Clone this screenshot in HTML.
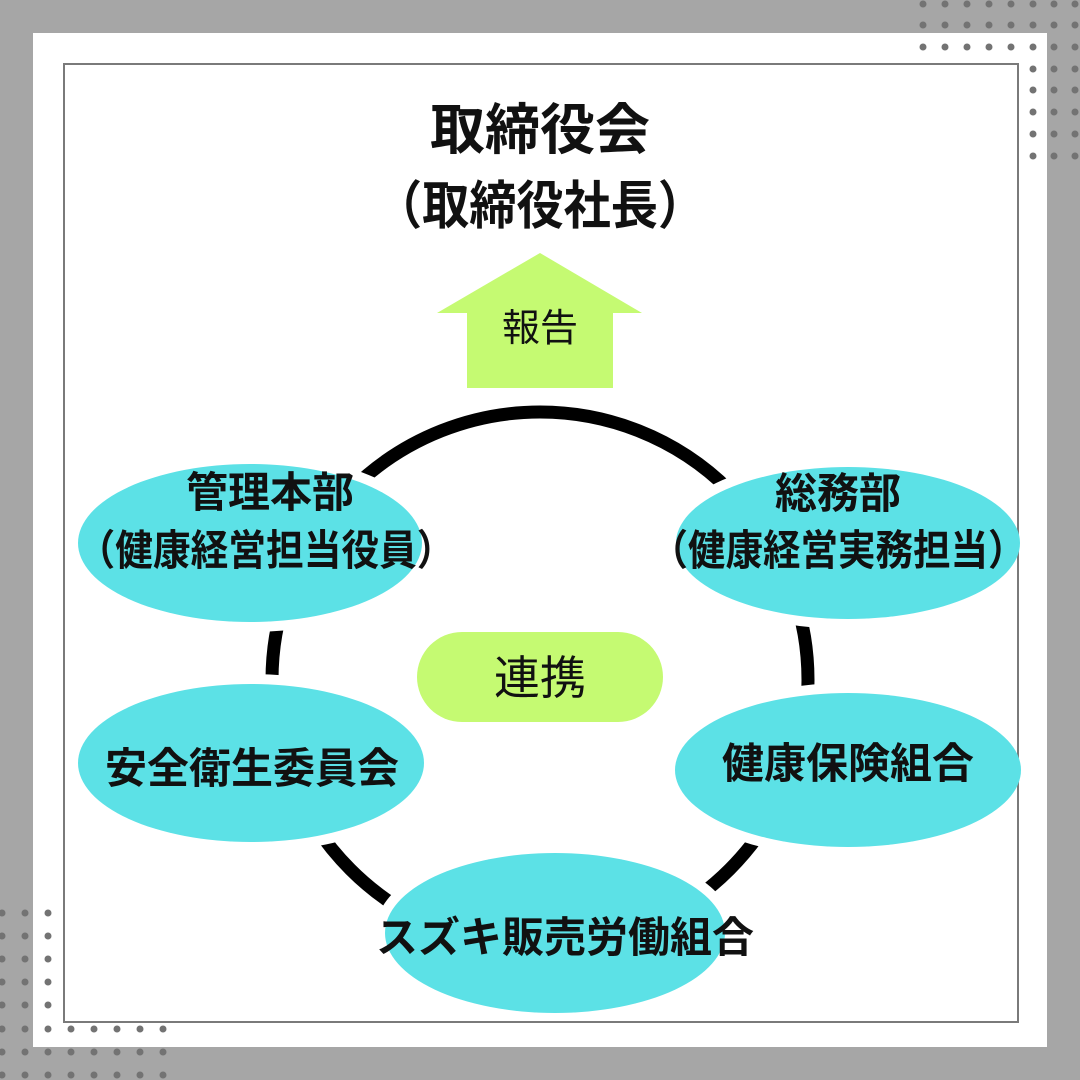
<!DOCTYPE html>
<html><head><meta charset="utf-8"><style>
html,body{margin:0;padding:0;}
body{width:1080px;height:1080px;background:#a6a6a6;position:relative;overflow:hidden;font-family:"Liberation Sans","Noto Sans CJK JP",sans-serif;}
</style></head><body>
<svg width="1080" height="1080" viewBox="0 0 1080 1080" style="position:absolute;left:0;top:0" font-family="Liberation Sans, Noto Sans CJK JP, sans-serif">
<rect x="0" y="0" width="1080" height="1080" fill="#a6a6a6"/>
<rect x="33" y="33" width="1014" height="1014" fill="#fff"/>
<circle cx="540" cy="680" r="268" fill="none" stroke="#000" stroke-width="13"/>
<polygon points="540,253 642,313 613,313 613,388 467,388 467,313 437,313" fill="#c5fa72"/>
<text x="540" y="341" font-size="38" text-anchor="middle" fill="#111">報告</text>
<text x="540" y="149" font-size="55" font-weight="bold" text-anchor="middle" fill="#111">取締役会</text>
<text x="540" y="224" font-size="52" font-weight="bold" text-anchor="middle" fill="#111" textLength="330" lengthAdjust="spacingAndGlyphs">（取締役社長）</text>
<rect x="417" y="632" width="246" height="90" rx="45" fill="#c5fa72"/>
<text x="540" y="694" font-size="46" text-anchor="middle" fill="#111">連携</text>
<g fill="#5ce1e6" stroke="#fff" stroke-width="20">
<ellipse cx="250" cy="543" rx="172" ry="79"/>
<ellipse cx="848" cy="543" rx="172" ry="76"/>
<ellipse cx="251" cy="763" rx="173" ry="79"/>
<ellipse cx="848" cy="770" rx="173" ry="77"/>
<ellipse cx="555" cy="933" rx="170" ry="80"/>
</g>
<rect x="64" y="64" width="954" height="958" fill="none" stroke="#7a7a7a" stroke-width="2"/>
<g fill="#5ce1e6">
<ellipse cx="250" cy="543" rx="172" ry="79"/>
<ellipse cx="848" cy="543" rx="172" ry="76"/>
<ellipse cx="251" cy="763" rx="173" ry="79"/>
<ellipse cx="848" cy="770" rx="173" ry="77"/>
<ellipse cx="555" cy="933" rx="170" ry="80"/>
</g>
<g font-size="42" font-weight="bold" text-anchor="middle" fill="#111">
<text x="270" y="507">管理本部</text>
<text x="266" y="565" textLength="377" lengthAdjust="spacingAndGlyphs">（健康経営担当役員）</text>
<text x="838" y="508">総務部</text>
<text x="838" y="565" textLength="375" lengthAdjust="spacingAndGlyphs">（健康経営実務担当）</text>
<text x="252" y="783">安全衛生委員会</text>
<text x="848" y="778">健康保険組合</text>
<text x="565" y="952">スズキ販売労働組合</text>
</g>
<g fill="#737373">
<circle cx="923" cy="4" r="3.5"/><circle cx="945" cy="4" r="3.5"/><circle cx="967" cy="4" r="3.5"/><circle cx="989" cy="4" r="3.5"/><circle cx="1011" cy="4" r="3.5"/><circle cx="1033" cy="4" r="3.5"/><circle cx="1054" cy="4" r="3.5"/><circle cx="1075" cy="4" r="3.5"/>
<circle cx="923" cy="25" r="3.5"/><circle cx="945" cy="25" r="3.5"/><circle cx="967" cy="25" r="3.5"/><circle cx="989" cy="25" r="3.5"/><circle cx="1011" cy="25" r="3.5"/><circle cx="1033" cy="25" r="3.5"/><circle cx="1054" cy="25" r="3.5"/><circle cx="1075" cy="25" r="3.5"/>
<circle cx="923" cy="47" r="3.5"/><circle cx="945" cy="47" r="3.5"/><circle cx="967" cy="47" r="3.5"/><circle cx="989" cy="47" r="3.5"/><circle cx="1011" cy="47" r="3.5"/><circle cx="1033" cy="47" r="3.5"/><circle cx="1054" cy="47" r="3.5"/><circle cx="1075" cy="47" r="3.5"/>
<circle cx="1033" cy="69" r="3.5"/><circle cx="1054" cy="69" r="3.5"/><circle cx="1075" cy="69" r="3.5"/>
<circle cx="1033" cy="90" r="3.5"/><circle cx="1054" cy="90" r="3.5"/><circle cx="1075" cy="90" r="3.5"/>
<circle cx="1033" cy="112" r="3.5"/><circle cx="1054" cy="112" r="3.5"/><circle cx="1075" cy="112" r="3.5"/>
<circle cx="1033" cy="134" r="3.5"/><circle cx="1054" cy="134" r="3.5"/><circle cx="1075" cy="134" r="3.5"/>
<circle cx="1033" cy="156" r="3.5"/><circle cx="1054" cy="156" r="3.5"/><circle cx="1075" cy="156" r="3.5"/>
<circle cx="2" cy="913" r="3.5"/><circle cx="25" cy="913" r="3.5"/><circle cx="48" cy="913" r="3.5"/>
<circle cx="2" cy="936" r="3.5"/><circle cx="25" cy="936" r="3.5"/><circle cx="48" cy="936" r="3.5"/>
<circle cx="2" cy="959" r="3.5"/><circle cx="25" cy="959" r="3.5"/><circle cx="48" cy="959" r="3.5"/>
<circle cx="2" cy="982" r="3.5"/><circle cx="25" cy="982" r="3.5"/><circle cx="48" cy="982" r="3.5"/>
<circle cx="2" cy="1005" r="3.5"/><circle cx="25" cy="1005" r="3.5"/><circle cx="48" cy="1005" r="3.5"/>
<circle cx="2" cy="1029" r="3.5"/><circle cx="25" cy="1029" r="3.5"/><circle cx="48" cy="1029" r="3.5"/><circle cx="71" cy="1029" r="3.5"/><circle cx="94" cy="1029" r="3.5"/><circle cx="117" cy="1029" r="3.5"/><circle cx="140" cy="1029" r="3.5"/><circle cx="163" cy="1029" r="3.5"/>
<circle cx="2" cy="1052" r="3.5"/><circle cx="25" cy="1052" r="3.5"/><circle cx="48" cy="1052" r="3.5"/><circle cx="71" cy="1052" r="3.5"/><circle cx="94" cy="1052" r="3.5"/><circle cx="117" cy="1052" r="3.5"/><circle cx="140" cy="1052" r="3.5"/><circle cx="163" cy="1052" r="3.5"/>
<circle cx="2" cy="1075" r="3.5"/><circle cx="25" cy="1075" r="3.5"/><circle cx="48" cy="1075" r="3.5"/><circle cx="71" cy="1075" r="3.5"/><circle cx="94" cy="1075" r="3.5"/><circle cx="117" cy="1075" r="3.5"/><circle cx="140" cy="1075" r="3.5"/><circle cx="163" cy="1075" r="3.5"/>
</g>
</svg>
</body></html>
